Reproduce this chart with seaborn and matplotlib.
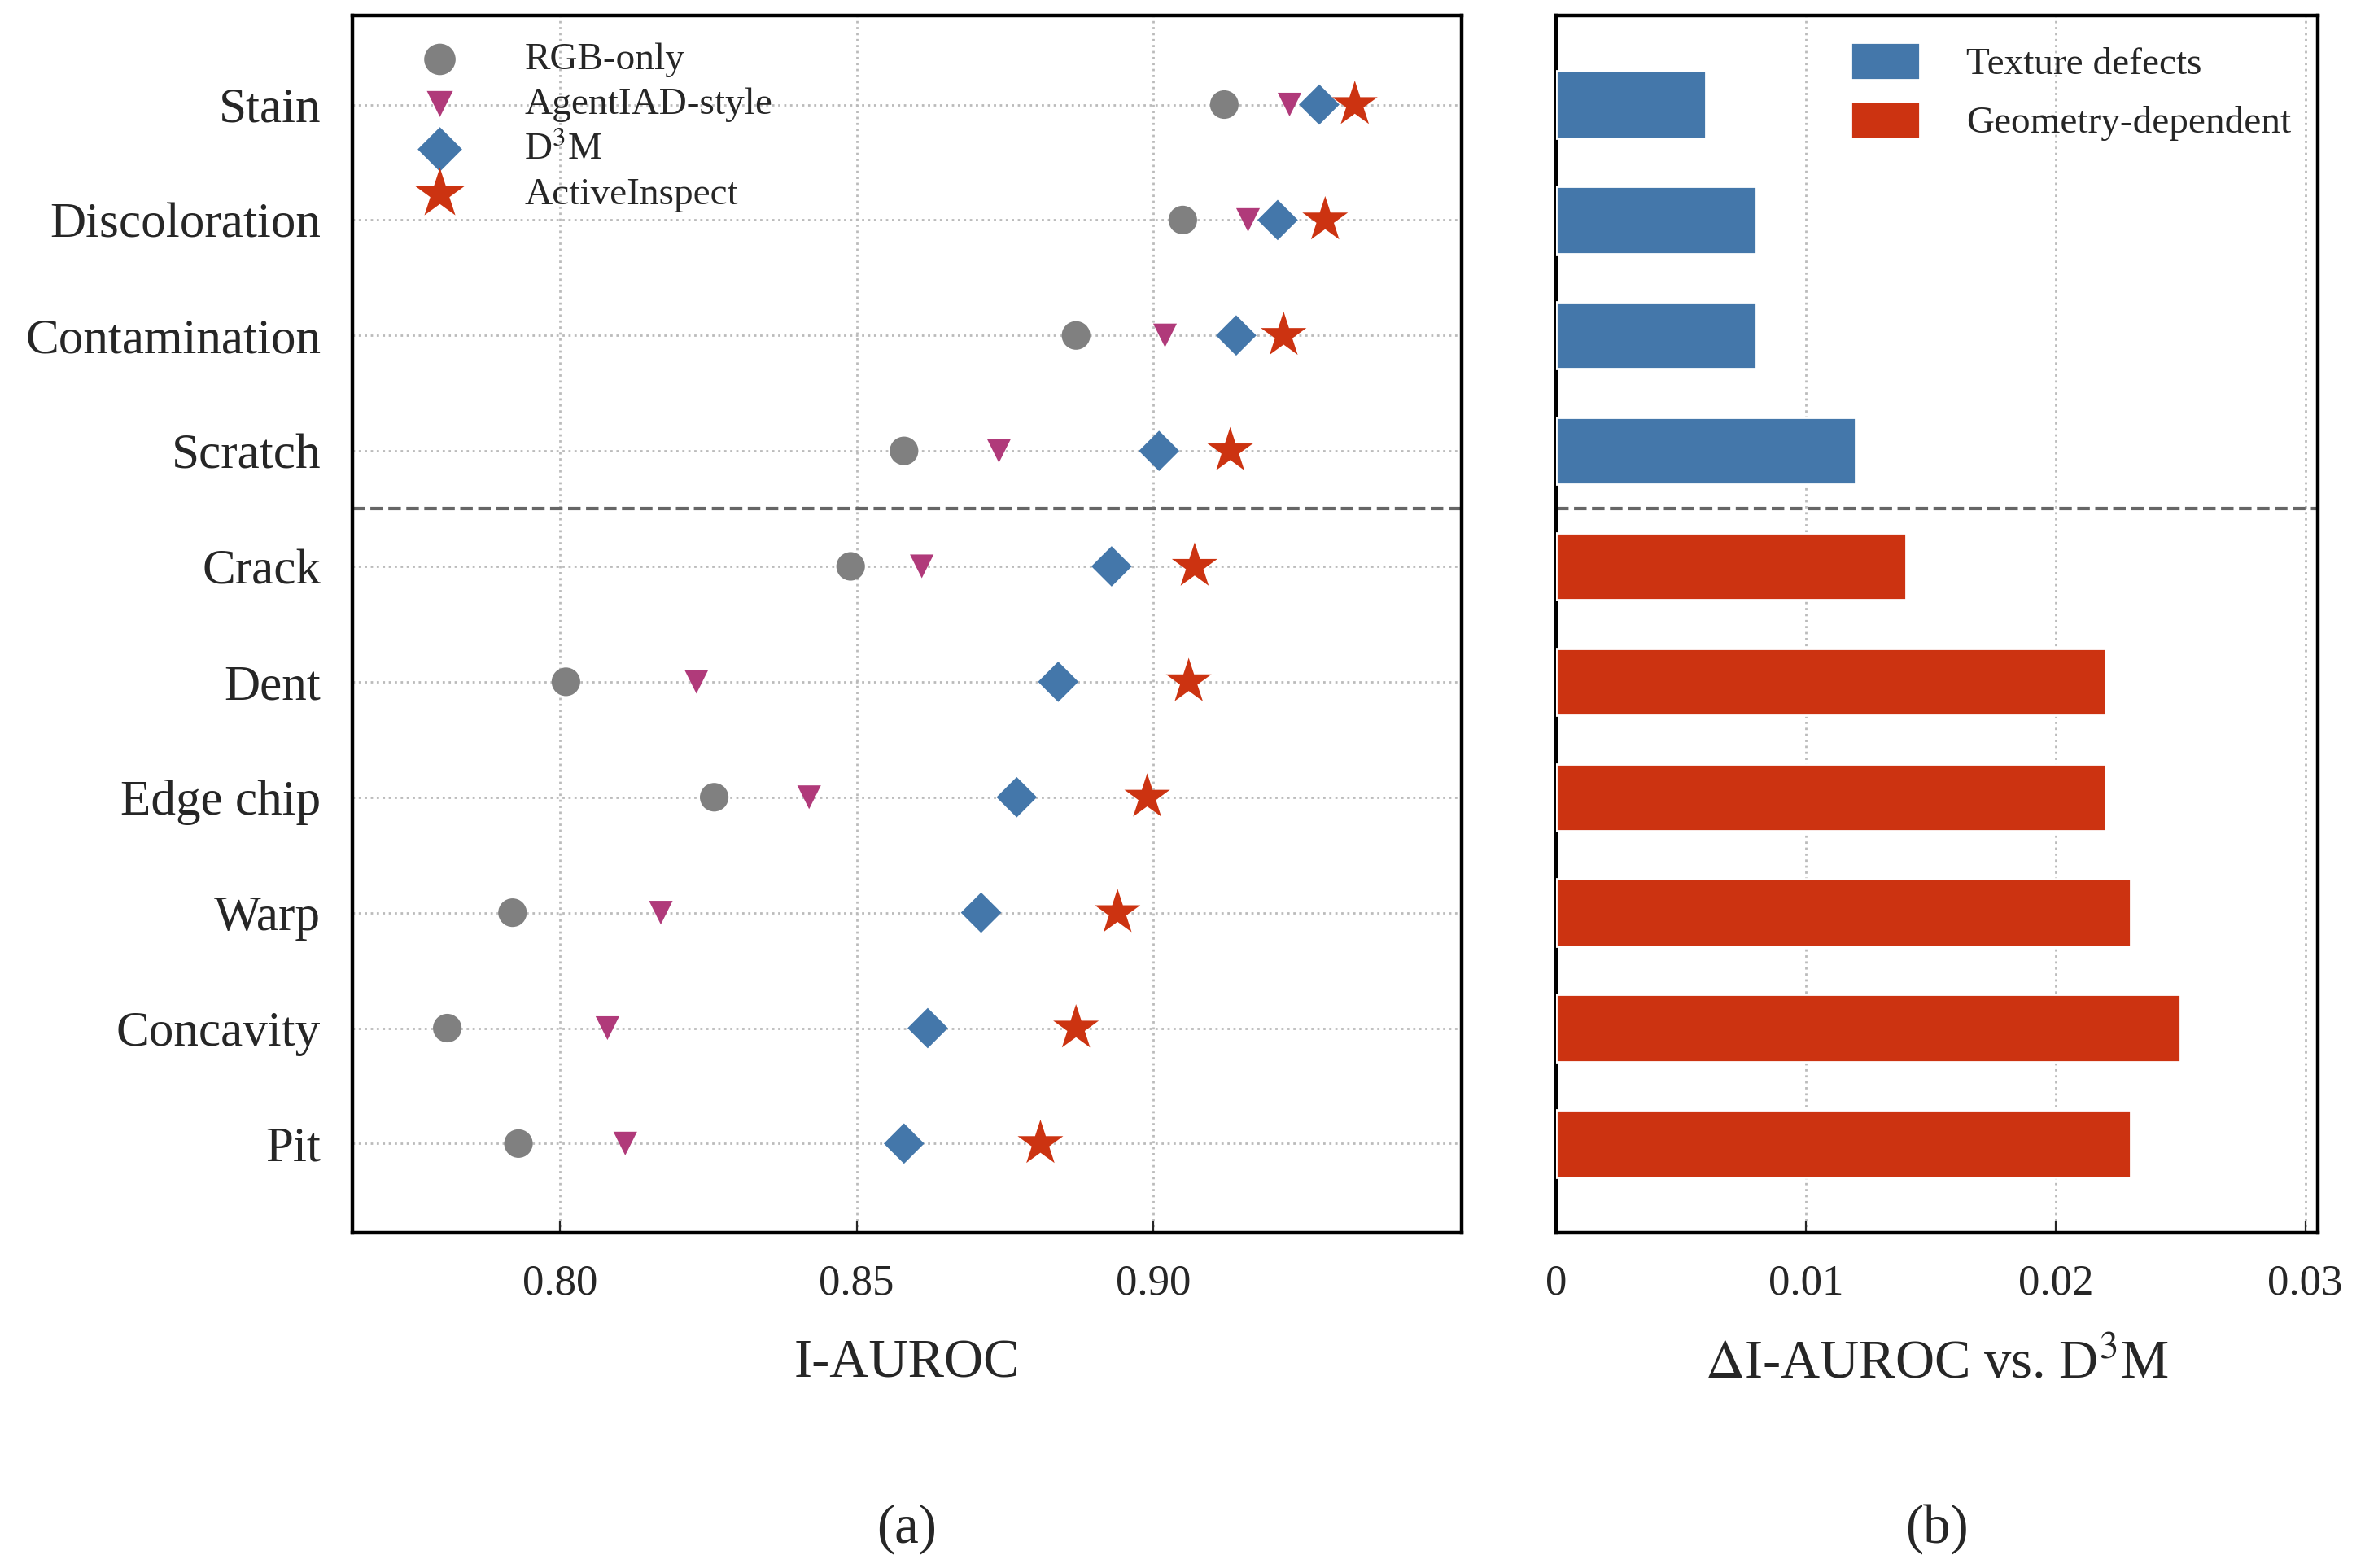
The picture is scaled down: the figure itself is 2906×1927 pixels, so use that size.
import pandas as pd
import matplotlib.pyplot as plt
import seaborn as sns

# Defect categories, top to bottom
categories = ['Stain', 'Discoloration', 'Contamination', 'Scratch', 'Crack',
              'Dent', 'Edge chip', 'Warp', 'Concavity', 'Pit']
groups = ['Texture defects'] * 4 + ['Geometry-dependent'] * 6

rgb_only = [0.912, 0.905, 0.887, 0.858, 0.849, 0.801, 0.826, 0.792, 0.781, 0.793]
agentiad = [0.923, 0.916, 0.902, 0.874, 0.861, 0.823, 0.842, 0.817, 0.808, 0.811]
d3m = [0.928, 0.921, 0.914, 0.901, 0.893, 0.884, 0.877, 0.871, 0.862, 0.858]
active = [0.934, 0.929, 0.922, 0.913, 0.907, 0.906, 0.899, 0.894, 0.887, 0.881]
delta = [0.006, 0.008, 0.008, 0.012, 0.014, 0.022, 0.022, 0.023, 0.025, 0.023]

methods = ['RGB-only', 'AgentIAD-style', 'D$^3$M', 'ActiveInspect']
method_vals = [rgb_only, agentiad, d3m, active]
markers = ['o', 'v', 'D', '*']
sizes = [160, 110, 160, 450]
colors = ['#808080', '#b03a7a', '#4477aa', '#cc3311']

rows = []
for m, vals in zip(methods, method_vals):
    for c, v in zip(categories, vals):
        rows.append({'category': c, 'method': m, 'auroc': v})
df = pd.DataFrame(rows)
df_delta = pd.DataFrame({'category': categories, 'delta': delta, 'group': groups})

sns.set_style('ticks')
plt.rcParams['font.family'] = ['Liberation Serif', 'DejaVu Serif']
plt.rcParams['mathtext.fontset'] = 'stix'

fig = plt.figure(figsize=(14.53, 9.635), dpi=200)
ax1 = fig.add_axes([0.149, 0.214, 0.469, 0.776])
ax2 = fig.add_axes([0.658, 0.214, 0.322, 0.776])

# ---------------------------------------------------------------
# (a) dot plot
for m, mk, s, col in zip(methods, markers, sizes, colors):
    sub = df[df.method == m]
    sns.scatterplot(data=sub, x='auroc', y='category', marker=mk, s=s,
                    color=col, edgecolor='none', label=m, ax=ax1, zorder=3)
ax1.set_xlim(0.765, 0.952)
ax1.set_ylim(9.77, -0.77)
ax1.set_xticks([0.80, 0.85, 0.90])
ax1.set_xticklabels(['0.80', '0.85', '0.90'])
ax1.axhline(3.5, color='#666666', ls='--', lw=1.5)
ax1.grid(True, ls=':', color='#bbbbbb', lw=1)
ax1.set_xlabel('I-AUROC', fontsize=24, labelpad=16)
ax1.set_ylabel('')
ax1.tick_params(axis='x', direction='in', labelsize=19, pad=14, length=5)
ax1.tick_params(axis='y', length=0, labelsize=22, pad=14)
ax1.legend(loc='upper left', fontsize=17, frameon=False, handletextpad=1.2,
           borderaxespad=0.3, labelspacing=0.25, markerscale=1.1,
           bbox_to_anchor=(0.02, 1.0))
ax1.text(0.5, -0.255, '(a)', transform=ax1.transAxes, ha='center', fontsize=24)

# ---------------------------------------------------------------
# (b) delta bars
sns.barplot(data=df_delta, x='delta', y='category', hue='group', orient='h',
            palette={'Texture defects': '#4477aa', 'Geometry-dependent': '#cc3311'},
            dodge=False, width=0.58, saturation=1, ax=ax2, zorder=3)
ax2.set_xlim(0, 0.0305)
ax2.set_ylim(9.77, -0.77)
ax2.set_xticks([0, 0.01, 0.02, 0.03])
ax2.set_xticklabels(['0', '0.01', '0.02', '0.03'])
ax2.set_yticks([])
ax2.axhline(3.5, color='#666666', ls='--', lw=1.5)
ax2.grid(True, axis='x', ls=':', color='#bbbbbb', lw=1)
ax2.set_xlabel('$\\Delta$I-AUROC vs. D$^3$M', fontsize=24, labelpad=16)
ax2.set_ylabel('')
ax2.tick_params(axis='x', direction='in', labelsize=19, pad=14, length=5)
ax2.legend(loc='upper right', fontsize=17, frameon=False, handlelength=1.8,
           handleheight=1.1, borderaxespad=0.3, handletextpad=1.2)
ax2.text(0.5, -0.255, '(b)', transform=ax2.transAxes, ha='center', fontsize=24)

for ax in (ax1, ax2):
    for sp in ax.spines.values():
        sp.set_linewidth(1.6)
        sp.set_color('black')

fig.savefig('out.png', dpi=200)
